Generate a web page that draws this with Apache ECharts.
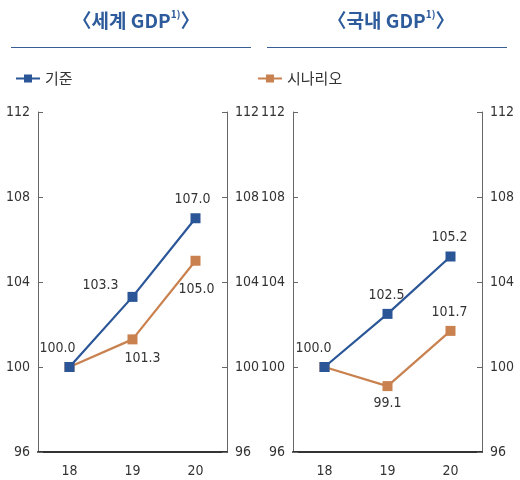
<!DOCTYPE html>
<html>
<head>
<meta charset="utf-8">
<script src="https://cdn.jsdelivr.net/npm/echarts@6/dist/echarts.min.js"></script>
<style>
  html, body { margin: 0; padding: 0; background: #fff; }
  #chart { width: 520px; height: 480px; }
</style>
</head>
<body>
<div id="chart"></div>
<script>
// 자료
const years = ["18", "19", "20"];
const worldBase = [100.0, 103.3, 107.0];
const worldScenario = [100.0, 101.3, 105.0];
const koreaBase = [100.0, 102.5, 105.2];
const koreaScenario = [100.0, 99.1, 101.7];
const yTicks = [96, 100, 104, 108, 112];

const BLUE = "#2a5597";
const ORANGE = "#c8814f";
const TITLE = "#2d5b9b";
const FONT = "'DejaVu Sans Condensed', Roboto, sans-serif";
const KR = "'Noto Sans CJK KR', sans-serif";

const chart = echarts.init(document.getElementById("chart"));

// 라벨 위치 (값 배열과 분리)
const labelCfg = {
  worldBase: [{ show: true, position: "top", offset: [-12, -2] }, { position: "left", offset: [-4, -12] }, { position: "top", offset: [-3, -2] }],
  worldScenario: [{ show: false }, { position: "bottom", offset: [10, 2] }, { position: "bottom", offset: [1, 12] }],
  koreaBase: [{ show: true, position: "top", offset: [-11, -2] }, { position: "top", offset: [-1, -2] }, { position: "top", offset: [-1, -2] }],
  koreaScenario: [{ show: false }, { position: "bottom", offset: [0, 0] }, { position: "top", offset: [-1, -2] }]
};

function items(values, cfg) {
  return values.map((v, i) => ({ value: v, label: cfg[i] }));
}

function yAxis(gridIndex, position) {
  return {
    type: "value",
    gridIndex: gridIndex,
    position: position,
    min: 96,
    max: 112,
    interval: 4,
    axisLine: { show: true, lineStyle: { color: "#666", width: 1 } },
    axisTick: { show: true, inside: true, length: 5, lineStyle: { color: "#666" } },
    splitLine: { show: false },
    axisLabel: {
      color: "#333",
      fontSize: 14,
      fontFamily: FONT,
      margin: 8,
      formatter: v => (yTicks.indexOf(v) >= 0 ? String(v) : "")
    }
  };
}

function xAxis(gridIndex) {
  return {
    type: "category",
    gridIndex: gridIndex,
    data: years,
    boundaryGap: true,
    axisLine: { lineStyle: { color: "#333", width: 2 } },
    axisTick: { inside: true, length: 5, lineStyle: { color: "#555" } },
    axisLabel: { color: "#333", fontSize: 14, fontFamily: FONT, margin: 12 }
  };
}

function lineSeries(name, color, xi, yi, data) {
  return {
    name: name,
    type: "line",
    xAxisIndex: xi,
    yAxisIndex: yi,
    symbol: "rect",
    symbolSize: 10,
    color: color,
    lineStyle: { width: 2.2, color: color },
    itemStyle: { color: color },
    label: { show: true, color: "#333", fontSize: 14, fontFamily: FONT, formatter: p => p.value.toFixed(1) },
    data: data,
    animation: false,
    z: name === "기준" ? 3 : 2
  };
}

function titleText(txt) {
  return "{a|〈" + txt + " GDP}{s|1)}{a|〉}";
}

const titleRich = {
  a: { fontSize: 19, fontWeight: "bold", color: TITLE, fontFamily: KR, lineHeight: 24 },
  s: { fontSize: 10, fontWeight: "bold", color: TITLE, fontFamily: KR, verticalAlign: "top", lineHeight: 24, padding: [0, 0, 10, 0] }
};

function legend(name, left) {
  return {
    data: [name], left: left, top: 66,
    itemWidth: 24, itemHeight: 10, itemGap: 10,
    textStyle: { color: "#333", fontSize: 15, fontFamily: KR }
  };
}

chart.setOption({
  backgroundColor: "#fff",
  animation: false,
  title: [
    { text: titleText("세계"), left: 131, top: 4, textAlign: "center", textStyle: { rich: titleRich } },
    { text: titleText("국내"), left: 386, top: 4, textAlign: "center", textStyle: { rich: titleRich } }
  ],
  graphic: [
    { type: "line", shape: { x1: 11, y1: 47.5, x2: 251, y2: 47.5 }, style: { stroke: "#3a5f95", lineWidth: 1 } },
    { type: "line", shape: { x1: 267, y1: 47.5, x2: 507, y2: 47.5 }, style: { stroke: "#3a5f95", lineWidth: 1 } }
  ],
  legend: [legend("기준", 10), legend("시나리오", 252)],
  grid: [
    { left: 38, right: 293, top: 112, bottom: 28 },
    { left: 293, right: 38, top: 112, bottom: 28 }
  ],
  xAxis: [xAxis(0), xAxis(1)],
  yAxis: [yAxis(0, "left"), yAxis(0, "right"), yAxis(1, "left"), yAxis(1, "right")],
  series: [
    lineSeries("기준", BLUE, 0, 0, items(worldBase, labelCfg.worldBase)),
    lineSeries("시나리오", ORANGE, 0, 0, items(worldScenario, labelCfg.worldScenario)),
    lineSeries("기준", BLUE, 1, 2, items(koreaBase, labelCfg.koreaBase)),
    lineSeries("시나리오", ORANGE, 1, 2, items(koreaScenario, labelCfg.koreaScenario))
  ]
});
</script>
</body>
</html>
